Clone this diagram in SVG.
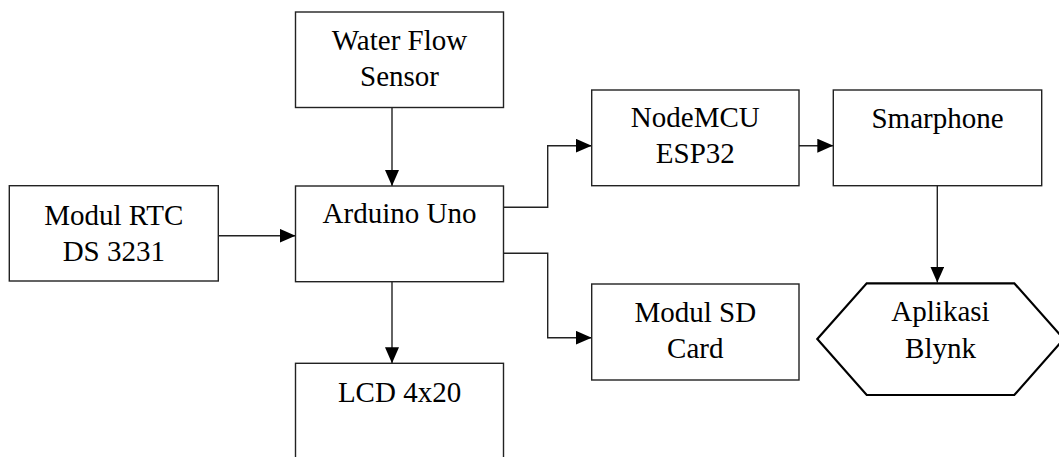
<svg xmlns="http://www.w3.org/2000/svg" width="1059" height="457" viewBox="0 0 1059 457">
<defs>
<marker id="arr" viewBox="0 0 16 14" refX="16" refY="7" markerWidth="16" markerHeight="14" markerUnits="userSpaceOnUse" orient="auto">
<path d="M0,0 L16,7 L0,14 z" fill="#000"/>
</marker>
<style>
.box{fill:#fff;stroke:#222;stroke-width:1.4}
.hex{fill:#fff;stroke:#000;stroke-width:2.2}
text{font-family:'Liberation Serif','Times New Roman',Times,serif;font-size:29px;fill:#000;text-anchor:middle}
.c{fill:none;stroke:#222;stroke-width:1.4}
</style>
</defs>
<rect width="1059" height="457" fill="#fff"/>
<g id="connectors">
<path class="c" d="M392,107.5 V186" marker-end="url(#arr)"/>
<path class="c" d="M218.5,235.7 H295.5" marker-end="url(#arr)"/>
<path class="c" d="M503.5,207.3 H547.7 V145.7 H591.7" marker-end="url(#arr)"/>
<path class="c" d="M503.5,253.3 H547.7 V337.7 H591.7" marker-end="url(#arr)"/>
<path class="c" d="M392,281.7 V363.3" marker-end="url(#arr)"/>
<path class="c" d="M799,145.7 H833.3" marker-end="url(#arr)"/>
<path class="c" d="M937.3,185.7 V282.5" marker-end="url(#arr)"/>
</g>
<g id="water-flow">
<rect class="box" x="295.5" y="12" width="208" height="95.5"/>
<text x="399.5" y="50">Water Flow</text>
<text x="399.5" y="86">Sensor</text>
</g>
<g id="arduino">
<rect class="box" x="295.5" y="186" width="208" height="95.7"/>
<text x="399.5" y="222.7">Arduino Uno</text>
</g>
<g id="rtc">
<rect class="box" x="9.3" y="185.7" width="209" height="95.3"/>
<text x="113.8" y="225">Modul RTC</text>
<text x="113.8" y="261">DS 3231</text>
</g>
<g id="lcd">
<rect class="box" x="295.5" y="363.3" width="208" height="120"/>
<text x="399.5" y="401.7">LCD 4x20</text>
</g>
<g id="nodemcu">
<rect class="box" x="591.7" y="90" width="207.3" height="95.7"/>
<text x="695.3" y="126.7">NodeMCU</text>
<text x="695.3" y="163.3">ESP32</text>
</g>
<g id="sdcard">
<rect class="box" x="591.7" y="284" width="207.3" height="96"/>
<text x="695.3" y="321.7">Modul SD</text>
<text x="695.3" y="358">Card</text>
</g>
<g id="smartphone">
<rect class="box" x="833.3" y="90" width="208.4" height="95.7"/>
<text x="937.5" y="127.5">Smarphone</text>
</g>
<g id="blynk">
<polygon class="hex" points="817.3,339 866.7,283.3 1014.3,283.3 1063.7,339 1014.3,395 866.7,395"/>
<text x="940.5" y="320.7">Aplikasi</text>
<text x="940.5" y="358.3">Blynk</text>
</g>
</svg>
